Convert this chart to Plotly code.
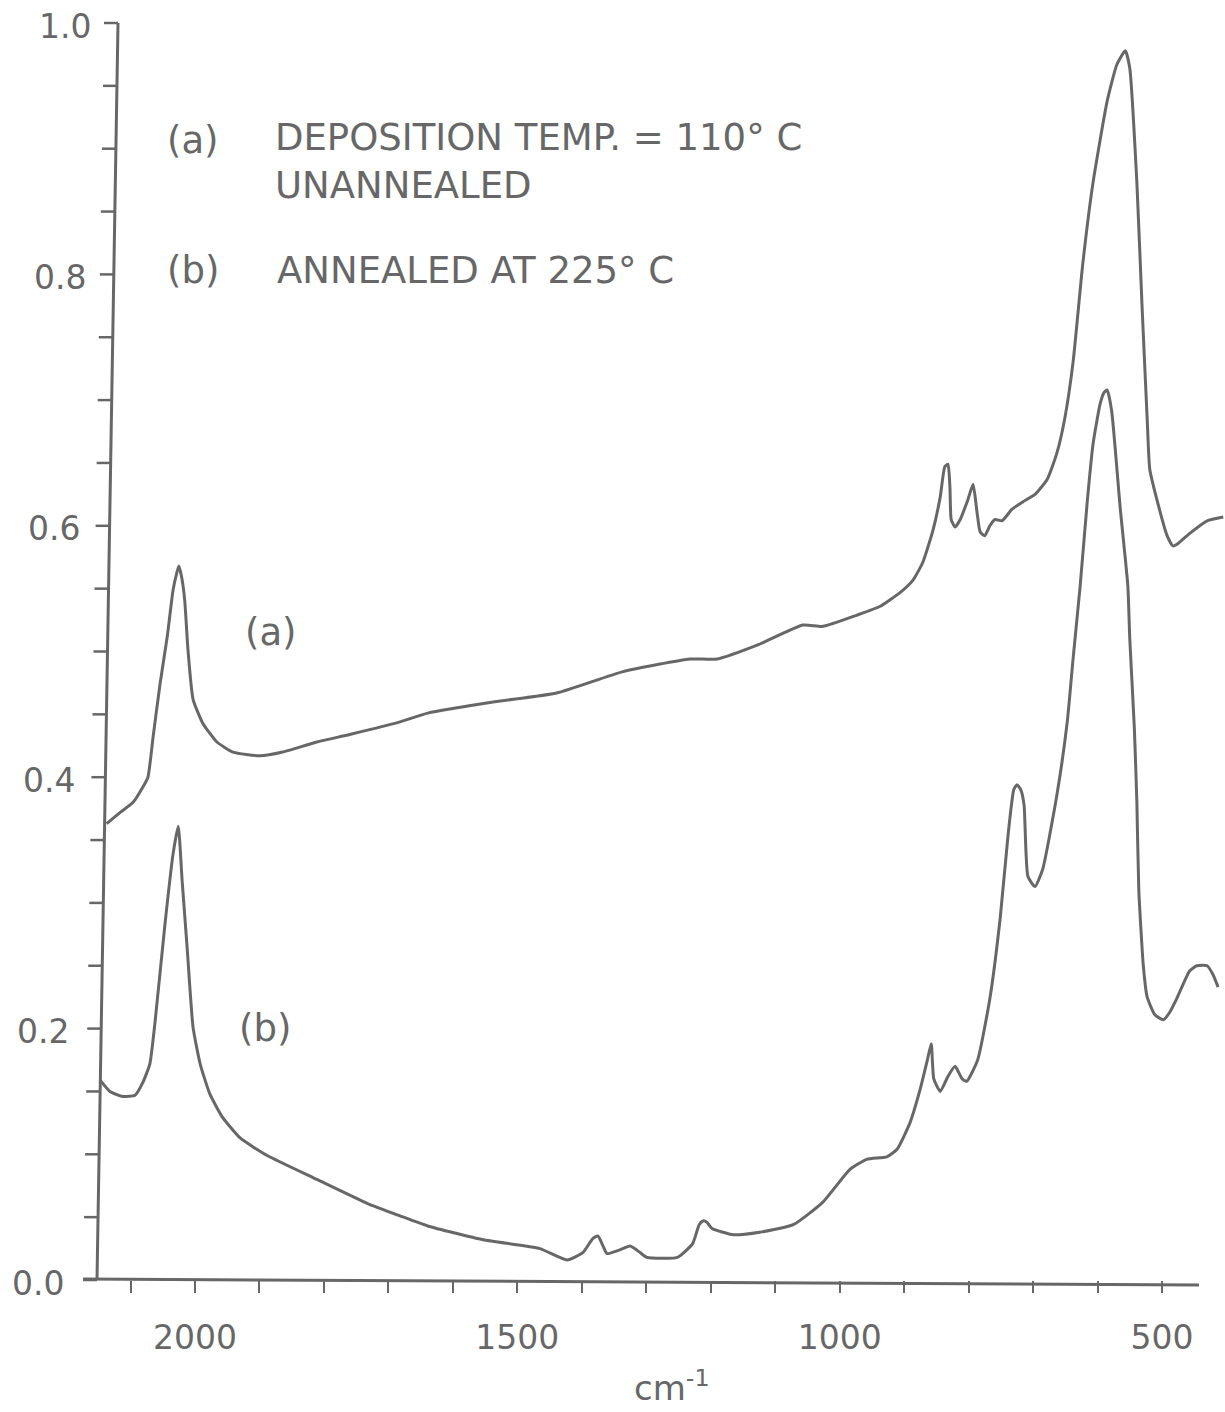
import plotly.graph_objects as go

# ---------------- data ----------------
wn_a = [2137, 2116, 2096, 2081, 2073, 2065, 2054, 2043, 2034, 2028, 2025, 2021, 2016, 2011,
        2003, 1988, 1966, 1941, 1899, 1864, 1811, 1760, 1682, 1639, 1535, 1439, 1336, 1232,
        1190, 1128, 1057, 1026, 973, 937, 906, 886, 871, 855, 844, 837, 832, 829, 827, 821,
        813, 801, 793, 787, 782, 775, 767, 759, 748, 733, 716, 697, 678, 663, 651, 638, 623,
        607, 585, 570, 557, 550, 539, 531, 523, 519, 507, 492, 483, 475, 457, 430, 405]
abs_a = [0.363, 0.372, 0.380, 0.392, 0.400, 0.432, 0.475, 0.512, 0.549, 0.563, 0.568, 0.560,
         0.541, 0.502, 0.462, 0.443, 0.428, 0.420, 0.417, 0.420, 0.428, 0.434, 0.444, 0.451,
         0.460, 0.467, 0.484, 0.494, 0.494, 0.505, 0.521, 0.520, 0.529, 0.536, 0.547, 0.557,
         0.571, 0.597, 0.623, 0.647, 0.649, 0.631, 0.605, 0.599, 0.605, 0.621, 0.633, 0.611,
         0.595, 0.592, 0.600, 0.605, 0.604, 0.613, 0.619, 0.625, 0.637, 0.658, 0.685, 0.730,
         0.808, 0.873, 0.938, 0.967, 0.978, 0.964, 0.873, 0.775, 0.685, 0.645, 0.619, 0.592,
         0.584, 0.586, 0.594, 0.604, 0.607]

wn_b = [2147, 2132, 2112, 2093, 2081, 2070, 2062, 2047, 2034, 2026, 2020, 2012, 2003, 1992,
        1977, 1958, 1930, 1888, 1811, 1733, 1682, 1639, 1553, 1465, 1423, 1398, 1383, 1375,
        1367, 1361, 1341, 1325, 1310, 1299, 1252, 1228, 1218, 1212, 1206, 1198, 1165, 1124,
        1072, 1026, 984, 958, 927, 911, 891, 875, 864, 858, 854, 844, 832, 821, 810, 803, 786,
        767, 751, 739, 730, 725, 719, 714, 708, 697, 685, 663, 647, 638, 627, 616, 607, 596,
        590, 585, 578, 565, 553, 550, 543, 539, 536, 529, 523, 511, 498, 488, 477, 457, 446,
        430, 421, 413]
abs_b = [0.159, 0.150, 0.146, 0.147, 0.157, 0.172, 0.205, 0.281, 0.339, 0.361, 0.318, 0.263,
         0.201, 0.172, 0.148, 0.130, 0.113, 0.099, 0.080, 0.061, 0.051, 0.043, 0.032, 0.025,
         0.016, 0.022, 0.033, 0.035, 0.027, 0.021, 0.024, 0.027, 0.022, 0.018, 0.018, 0.029,
         0.044, 0.047, 0.046, 0.041, 0.036, 0.038, 0.044, 0.062, 0.088, 0.096, 0.098, 0.104,
         0.125, 0.152, 0.175, 0.188, 0.160, 0.150, 0.162, 0.170, 0.160, 0.158, 0.175, 0.224,
         0.288, 0.353, 0.390, 0.394, 0.390, 0.378, 0.321, 0.313, 0.327, 0.386, 0.444, 0.494,
         0.552, 0.619, 0.665, 0.697, 0.706, 0.708, 0.691, 0.615, 0.552, 0.510, 0.440, 0.380,
         0.310, 0.250, 0.225, 0.211, 0.207, 0.213, 0.224, 0.246, 0.250, 0.250, 0.243, 0.233]

x_label_vals = [2000, 1500, 1000, 500]
x_label_text = ["2000", "1500", "1000", "500"]
x_minor_vals = [2100, 1900, 1800, 1700, 1600, 1400, 1300, 1200, 1100, 900, 800, 700, 600]
y_label_vals = [0.0, 0.2, 0.4, 0.6, 0.8, 1.0]
y_label_text = ["0.0", "0.2", "0.4", "0.6", "0.8", "1.0"]
y_minor_vals = [0.0, 0.05, 0.1, 0.15, 0.2, 0.25, 0.3, 0.35, 0.4, 0.45, 0.5, 0.55, 0.6, 0.65,
                0.7, 0.75, 0.8, 0.85, 0.9, 0.95, 1.0]

header_a = "DEPOSITION TEMP. = 110° C<br>UNANNEALED"
header_b = "ANNEALED AT 225° C"

# ---------------- layout helpers ----------------
W, H = 1225, 1412
L, R, T, B = 97, 0, 23, 132
PW, PH = W - L - R, H - T - B
X_LEFT, X_RIGHT = 2152.0, 402.3
INK = "#676767"
FONT = "DejaVu Sans"
TILT = 21  # y axis drawn slanted in the original (px over full height)


def px_x(px):
    return (px - L) / PW


def px_y(py):
    return (H - B - py) / PH


fig = go.Figure()
line_style = dict(color=INK, width=3, shape="spline", smoothing=0.5)
fig.add_trace(go.Scatter(x=wn_a, y=abs_a, mode="lines", line=line_style, name="(a)",
                         showlegend=False, hoverinfo="skip"))
fig.add_trace(go.Scatter(x=wn_b, y=abs_b, mode="lines", line=line_style, name="(b)",
                         showlegend=False, hoverinfo="skip"))

shapes = []
# slanted y axis line
shapes.append(dict(type="line", xref="paper", yref="paper",
                   x0=px_x(L), y0=0, x1=px_x(L + TILT), y1=1,
                   line=dict(color=INK, width=3)))
# y ticks
for v in y_minor_vals:
    ax = L + TILT * v
    shapes.append(dict(type="line", xref="paper", yref="paper",
                       x0=px_x(ax - 14), x1=px_x(ax), y0=v, y1=v,
                       line=dict(color=INK, width=2.5)))
# x axis line (slightly slanted in the original)
shapes.append(dict(type="line", xref="paper", yref="paper",
                   x0=px_x(83), y0=px_y(1279), x1=px_x(1199), y1=px_y(1285),
                   line=dict(color=INK, width=3)))

annotations = []
for v, t in zip(y_label_vals, y_label_text):
    right_edge = 66 + 27 * v
    annotations.append(dict(x=px_x(right_edge), y=px_y(H - B - v * PH + 3), xref="paper",
                            yref="paper", text=t, showarrow=False, xanchor="right",
                            yanchor="middle", font=dict(family=FONT, size=33, color=INK)))

txt_font = dict(family=FONT, size=37, color=INK)
text_annos = [
    dict(x=px_x(193), y=px_y(140), text="(a)", xanchor="center", yanchor="middle"),
    dict(x=px_x(273), y=px_y(114), text=header_a, xanchor="left", yanchor="top",
         align="left"),
    dict(x=px_x(193), y=px_y(270), text="(b)", xanchor="center", yanchor="middle"),
    dict(x=px_x(275), y=px_y(270), text=header_b, xanchor="left", yanchor="middle"),
    dict(x=px_x(271), y=px_y(632), text="(a)", xanchor="center", yanchor="middle"),
    dict(x=px_x(265), y=px_y(1028), text="(b)", xanchor="center", yanchor="middle"),
]
for a in text_annos:
    a.update(xref="paper", yref="paper", showarrow=False, font=txt_font)
annotations += text_annos

annotations.append(dict(x=px_x(672), y=px_y(1410), xref="paper", yref="paper",
                        text="cm<sup>-1</sup>", showarrow=False, xanchor="center",
                        yanchor="bottom", font=dict(family=FONT, size=34, color=INK)))

fig.update_layout(
    width=W, height=H,
    margin=dict(l=L, r=R, t=T, b=B, pad=0),
    paper_bgcolor="white", plot_bgcolor="white",
    showlegend=False, hovermode=False,
    shapes=shapes, annotations=annotations,
    xaxis=dict(range=[X_LEFT, X_RIGHT], showgrid=False, zeroline=False, showline=False,
               ticks="outside", ticklen=12, tickwidth=2, tickcolor=INK,
               tickvals=x_label_vals, ticktext=x_label_text,
               ticklabelstandoff=16,
               tickfont=dict(family=FONT, size=33, color=INK),
               minor=dict(tickvals=x_minor_vals, ticks="outside", ticklen=12,
                          tickwidth=2, tickcolor=INK, showgrid=False)),
    yaxis=dict(range=[0, 1], visible=False),
)

fig.write_html("out.html", config={"displayModeBar": False})
